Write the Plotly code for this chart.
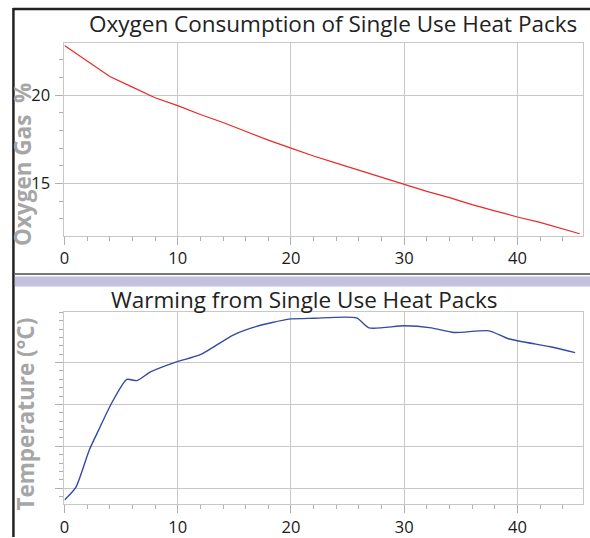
import plotly.graph_objects as go

W, H = 590, 538

# ---- data ----
o2_time = [0, 2, 4, 6, 8, 10, 12, 14, 16, 18, 20, 22, 24, 26, 28, 30, 32, 34, 36, 38, 40, 42, 44, 45.5]
o2_pct = [22.8, 21.9, 21.05, 20.45, 19.85, 19.4, 18.9, 18.45, 17.95, 17.45, 17.0, 16.55, 16.15,
          15.75, 15.35, 14.95, 14.55, 14.2, 13.8, 13.45, 13.1, 12.8, 12.45, 12.15]

temp_time = [0, 1, 2.2, 3, 4.1, 5.5, 6.4, 7.6, 9.9, 12, 14.9, 16.9, 19.8, 22, 25.8, 26.9, 30,
             32.4, 34.4, 37.5, 39.2, 42.9, 45.1]
temp_c = [23.6, 25.1, 29.6, 31.9, 35.0, 38.0, 37.85, 38.9, 40.1, 40.95, 43.3, 44.3, 45.2, 45.3,
          45.35, 44.15, 44.4, 44.15, 43.6, 43.8, 42.85, 41.9, 41.2]

x_ticks = [0, 10, 20, 30, 40]
o2_ticks = [15, 20]
temp_grid_ticks = [25, 30, 35, 40]
temp_top_tick = [45]

title_top = "Oxygen Consumption of Single Use Heat Packs"
title_bottom = "Warming from Single Use Heat Packs"
ytitle_top = "Oxygen Gas  %"
ytitle_bottom = "Temperature (°C)"


def px(x):
    return x / W


def py(y):
    return 1 - y / H


FONT = "Open Sans"
GRID = "#c8c8c8"
TICKC = "#b0b0b0"

fig = go.Figure()
fig.add_trace(go.Scatter(x=o2_time, y=o2_pct, mode="lines", xaxis="x", yaxis="y",
                         line=dict(color="rgb(236,40,40)", width=1.2), showlegend=False))
fig.add_trace(go.Scatter(x=temp_time, y=temp_c, mode="lines", xaxis="x2", yaxis="y2",
                         line=dict(color="rgb(50,75,165)", width=1.4, shape="spline", smoothing=0.6),
                         showlegend=False))

common_x = dict(
    range=[0, 45.8], tickmode="array", tickvals=x_ticks, showgrid=True, gridcolor=GRID, gridwidth=1,
    ticks="outside", ticklen=8, tickcolor=TICKC, tickwidth=1,
    minor=dict(dtick=2, tick0=0, ticks="outside", ticklen=4, tickcolor=TICKC, showgrid=False),
    showline=True, linecolor=GRID, linewidth=1, mirror=True, zeroline=False,
    tickfont=dict(family=FONT, size=16.5, color="#1a1a1a"), fixedrange=True,
)

fig.update_layout(
    width=W, height=H, margin=dict(l=0, r=0, t=0, b=0),
    paper_bgcolor="white", plot_bgcolor="white",
    xaxis=dict(domain=[px(60), px(583)], anchor="y", **common_x),
    yaxis=dict(domain=[py(236), py(43)], anchor="x", range=[12.05, 22.95], tickmode="array",
               tickvals=o2_ticks, showgrid=True, gridcolor=GRID, ticks="outside", ticklen=8,
               tickcolor=TICKC,
               minor=dict(dtick=1, tick0=0, ticks="outside", ticklen=4, tickcolor=TICKC, showgrid=False),
               showline=True, linecolor=GRID, mirror=True, zeroline=False,
               tickfont=dict(family=FONT, size=16.5, color="#1a1a1a"), ticklabelstandoff=2),
    xaxis2=dict(domain=[px(60), px(583)], anchor="y2", **common_x),
    yaxis2=dict(domain=[py(505), py(313)], anchor="x2", range=[23.1, 46.0], tickmode="array",
                tickvals=temp_grid_ticks, showticklabels=False, showgrid=True, gridcolor=GRID,
                ticks="outside", ticklen=8, tickcolor=TICKC,
                minor=dict(dtick=1, tick0=0, ticks="outside", ticklen=4, tickcolor=TICKC, showgrid=False),
                showline=True, linecolor=GRID, mirror=True, zeroline=False),
    yaxis3=dict(overlaying="y2", anchor="x2", range=[23.1, 46.0], tickmode="array",
                tickvals=temp_top_tick, showticklabels=False, showgrid=False, ticks="outside",
                ticklen=8, tickcolor=TICKC, showline=False, zeroline=False),
)

fig.add_annotation(text=title_top, x=px(331), y=py(24), xref="paper", yref="paper",
                   showarrow=False, xanchor="center", yanchor="middle",
                   font=dict(family=FONT, size=22.5, color="#222222"))
fig.add_annotation(text=title_bottom, x=px(302), y=py(300), xref="paper", yref="paper",
                   showarrow=False, xanchor="center", yanchor="middle",
                   font=dict(family=FONT, size=22.5, color="#222222"))
fig.add_annotation(text="<b>" + ytitle_top + "</b>", x=px(17.5), y=py(165), xref="paper", yref="paper",
                   showarrow=False, xanchor="center", yanchor="middle", textangle=-90,
                   font=dict(family=FONT, size=22.5, color="#a6a6a6"))
fig.add_annotation(text="<b>" + ytitle_bottom + "</b>", x=px(20.5), y=py(415), xref="paper", yref="paper",
                   showarrow=False, xanchor="center", yanchor="middle", textangle=-90,
                   font=dict(family=FONT, size=22.5, color="#a6a6a6"))

# frame / separators
fig.add_shape(type="line", xref="paper", yref="paper", x0=px(8), x1=1, y0=py(9), y1=py(9),
              line=dict(color="#222222", width=2.5))
fig.add_shape(type="line", xref="paper", yref="paper", x0=px(8.5), x1=px(8.5), y0=py(8), y1=0,
              line=dict(color="#222222", width=2.5))
fig.add_shape(type="line", xref="paper", yref="paper", x0=px(10), x1=1, y0=py(274.5), y1=py(274.5),
              line=dict(color="#777777", width=2))
fig.add_shape(type="rect", xref="paper", yref="paper", x0=px(10), x1=1, y0=py(287), y1=py(277),
              fillcolor="#c4c1de", line=dict(width=0))

fig.write_html("out.html", config={"displayModeBar": False},
               post_script="document.body.style.margin='0';document.body.style.overflow='hidden';")
